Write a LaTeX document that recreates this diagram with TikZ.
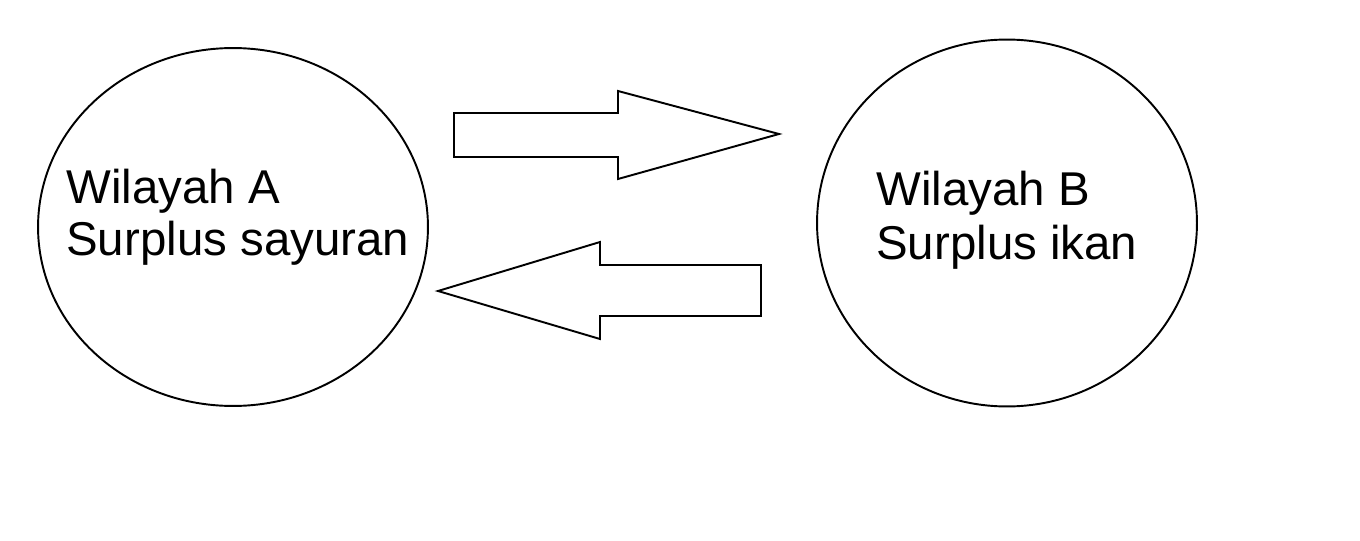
\documentclass[tikz,border=0pt]{standalone}
\usepackage{fontspec}
\setmainfont{Liberation Sans}
\usepackage{tikz}
\usetikzlibrary{positioning,shapes.geometric}
\tikzset{
    wil/.style={ellipse, draw, line width=1.1pt, inner sep=0pt},
    txt/.style={anchor=base west, inner sep=0pt, font=\fontsize{27}{31}\selectfont},
    blokpanah/.style={draw, line width=1.1pt, line join=miter},
}
\begin{document}
\begin{tikzpicture}[x=0.02cm, y=-0.02cm]
    \useasboundingbox (0,0) rectangle (1360,541);
    % wilayah
    \node[wil, minimum width=7.8cm, minimum height=7.16cm]  (wa) at (233,227) {};
    \node[wil, minimum width=7.6cm, minimum height=7.34cm]  (wb) at (1007,223) {};
    \node[txt] (wa1) at (66,203) {Wilayah A};
    \node[txt] (wa2) at (66,255) {Surplus sayuran};
    \node[txt] (wb1) at (876,205) {Wilayah B};
    \node[txt] (wb2) at (876,259) {Surplus ikan};

    % panah A ke B
    \draw[blokpanah] (454,113) -- (618,113) -- (618,91) -- (779,134)
        -- (618,179) -- (618,157) -- (454,157) -- cycle;
    % panah B ke A
    \draw[blokpanah] (761,265) -- (600,265) -- (600,242) -- (438,291)
        -- (600,339) -- (600,316) -- (761,316) -- cycle;
\end{tikzpicture}
\end{document}
